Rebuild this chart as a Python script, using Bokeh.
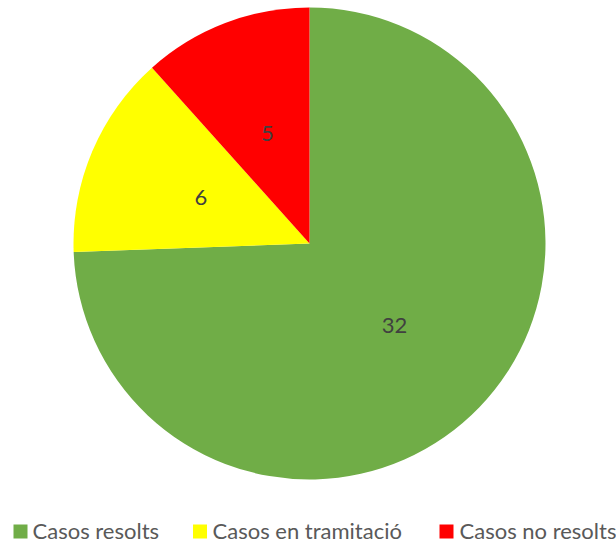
import numpy as np
from bokeh.plotting import figure
from bokeh.models import ColumnDataSource, Range1d
from bokeh.core.properties import value
from bokeh.embed import file_html
from bokeh.resources import INLINE

categories = ["Casos resolts", "Casos en tramitació", "Casos no resolts"]
counts = [32, 6, 5]
colors = ["#70AD47", "#FFFF00", "#FF0000"]

W, H = 616, 542
cx, cy, R = 309, 299, 236

vals = np.array(counts, dtype=float)
frac = vals / vals.sum()
ends = np.cumsum(frac)
starts = ends - frac
start_ang = np.pi / 2 - 2 * np.pi * starts
end_ang = np.pi / 2 - 2 * np.pi * ends
mid_ang = (start_ang + end_ang) / 2

src = ColumnDataSource(dict(
    cat=categories, val=counts, color=colors,
    start=start_ang, end=end_ang,
    lx=cx + 0.5 * R * np.cos(mid_ang), ly=cy + 0.5 * R * np.sin(mid_ang),
    lab=[str(c) for c in counts],
))

p = figure(width=W, height=H, output_backend="svg", toolbar_location=None,
           x_range=Range1d(0, W), y_range=Range1d(0, H),
           min_border=0, outline_line_color=None)
p.axis.visible = False
p.grid.visible = False

p.wedge(x=cx, y=cy, radius=R, start_angle="start", end_angle="end",
        direction="clock", fill_color="color", line_color=None, source=src)

p.text(x="lx", y="ly", text="lab", source=src, text_align="center",
       text_baseline="middle", text_font=value("Lato"), text_font_size="22px",
       text_color="#404040")

# legend (manual, horizontal at bottom)
leg_sq_x = [20, 199.5, 446]
leg_tx_x = [32, 212, 459]
leg = ColumnDataSource(dict(sx=leg_sq_x, tx=leg_tx_x, cat=categories, color=colors))
p.rect(x="sx", y=11, width=14, height=14, fill_color="color", line_color=None, source=leg)
p.text(x="tx", y=12.5, text="cat", source=leg, text_align="left",
       text_baseline="middle", text_font=value("Lato"), text_font_size="22px",
       text_color="#595959")

open("out.html", "w").write(file_html(p, INLINE))
